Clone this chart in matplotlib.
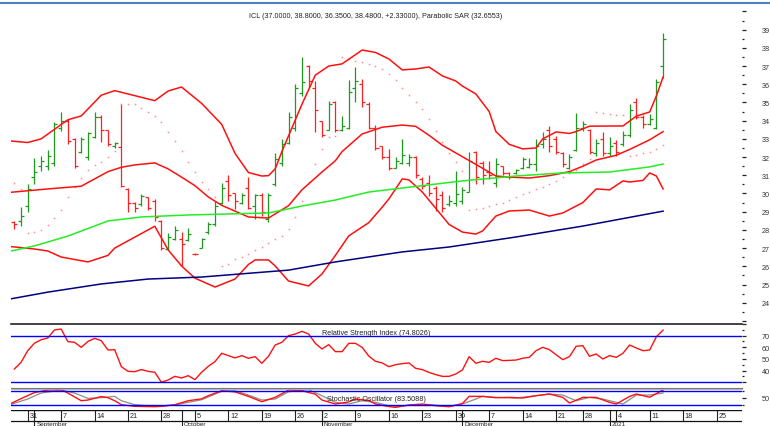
import numpy as np
import pandas as pd
import matplotlib
matplotlib.use("Agg")
import matplotlib.pyplot as plt
from matplotlib.lines import Line2D
from matplotlib.ticker import FixedLocator, FuncFormatter

plt.rcParams['font.family'] = ['Liberation Sans', 'DejaVu Sans']

# trading sessions on the chart, first bar 27 Aug 2020 (two sessions missing)
dates = pd.bdate_range('2020-08-27', '2021-02-05').drop(pd.to_datetime(['2020-10-28', '2020-12-25']))
day = np.arange(len(dates)) - 2   # 0 = 31 Aug

# OHLC, 27 Aug 2020 .. 13 Jan 2021
opens = [28.45, 28.5, 29.33, 30.9, 31.5, 31.5, 31.7, 33.6, 34.0, 33.0,
         32.3, 32.0, 33.1, 34.2, 33.5, 32.6, 32.55, 30.25, 29.5, 29.4,
         29.8, 29.6, 28.5, 26.95, 27.5, 27.5, 27.45, 26.7, 27.0, 27.9,
         28.3, 29.5, 30.7, 30.0, 29.5, 30.3, 29.3, 29.9, 28.6, 30.5,
         31.7, 32.8, 33.6, 35.5, 37.0, 35.8, 34.0, 33.5, 35.0, 33.5,
         33.6, 35.8, 36.0, 34.9, 33.6, 32.6, 32.0, 31.4, 31.7, 31.7,
         32.0, 30.8, 30.6, 30.3, 29.9, 29.4, 29.5, 29.6, 30.1, 32.3,
         31.7, 31.2, 30.6, 31.5, 31.1, 31.1, 31.4, 31.45, 31.6, 32.7,
         33.5, 33.0, 32.2, 31.4, 32.4, 33.6, 33.5, 32.2, 33.0, 32.2,
         32.8, 32.7, 33.2, 35.0, 34.2, 33.8, 33.6, 37.0]
highs = [28.51, 29.24, 30.52, 31.95, 32.08, 32.39, 33.91, 34.5, 34.09, 33.03,
         33.09, 33.4, 34.5, 34.3, 33.51, 32.81, 34.92, 30.28, 29.51, 29.97,
         29.82, 29.7, 28.54, 27.83, 28.23, 27.87, 28.1, 26.72, 27.54, 28.42,
         29.6, 30.56, 31.0, 30.0, 30.0, 30.89, 29.97, 30.0, 30.0, 32.23,
         33.0, 34.5, 36.0, 37.48, 37.06, 36.2, 34.0, 35.1, 35.1, 34.28,
         36.26, 36.93, 36.29, 35.05, 33.76, 32.63, 32.45, 31.99, 33.0, 32.17,
         32.04, 30.89, 31.02, 30.4, 30.16, 29.92, 31.25, 30.34, 32.26, 32.35,
         31.8, 31.8, 31.93, 31.53, 31.2, 31.35, 32.02, 31.93, 32.99, 33.4,
         33.73, 33.18, 32.26, 32.17, 34.4, 34.0, 33.54, 32.99, 33.4, 33.08,
         32.96, 33.45, 34.9, 35.23, 34.31, 34.37, 36.29, 38.8]
lows = [28.05, 28.23, 28.97, 30.53, 31.25, 31.31, 31.53, 33.45, 32.72, 31.38,
        32.21, 31.86, 33.03, 32.81, 32.63, 32.5, 30.34, 29.0, 29.0, 29.33,
        29.11, 28.5, 26.9, 26.9, 27.45, 26.04, 27.41, 26.6, 26.99, 27.78,
        28.2, 29.42, 29.6, 29.15, 29.4, 29.15, 28.6, 28.78, 28.45, 30.43,
        31.53, 32.72, 33.45, 35.38, 35.78, 33.4, 33.09, 33.5, 33.4, 33.45,
        33.54, 35.01, 34.73, 33.54, 32.41, 31.9, 31.31, 31.38, 31.62, 31.53,
        30.83, 30.25, 29.88, 29.06, 28.97, 29.33, 29.33, 29.42, 30.06, 30.52,
        30.52, 30.8, 30.34, 31.02, 30.8, 31.07, 31.35, 31.38, 31.25, 32.48,
        32.3, 32.17, 31.44, 31.35, 32.35, 33.45, 32.17, 32.08, 32.04, 32.08,
        32.08, 32.63, 33.09, 34.09, 33.58, 33.78, 33.54, 36.35]
closes = [28.3, 28.78, 30.25, 31.2, 31.8, 32.08, 33.8, 34.0, 32.9, 31.5,
          33.0, 33.3, 34.2, 33.5, 32.7, 32.8, 30.4, 29.5, 29.2, 29.85,
          29.2, 28.7, 27.0, 27.6, 28.0, 27.23, 27.8, 26.65, 27.5, 28.3,
          29.3, 30.3, 29.9, 29.6, 29.9, 29.2, 29.9, 29.0, 29.9, 31.9,
          32.7, 34.2, 35.8, 36.1, 36.2, 34.6, 33.2, 34.9, 33.5, 33.7,
          35.6, 36.2, 35.0, 33.6, 32.5, 32.0, 31.4, 31.8, 32.1, 32.0,
          31.0, 30.4, 30.0, 29.7, 29.2, 29.6, 29.97, 30.2, 31.8, 30.9,
          31.0, 31.0, 31.6, 31.1, 30.9, 31.3, 31.9, 31.6, 32.6, 33.0,
          32.6, 32.3, 31.6, 32.0, 33.6, 33.8, 32.3, 32.8, 32.2, 32.6,
          32.3, 33.2, 34.6, 34.2, 33.8, 34.1, 36.15, 38.48]

# Parabolic SAR, one dot per bar
sar = [30.56, 30.25, 27.84, 27.9, 28.0, 28.27, 28.64, 29.11, 29.79, 30.34,
       30.85, 31.29, 31.55, 31.75, 31.99, 32.35, 34.92, 34.92, 34.9, 34.68,
       34.46, 34.24, 33.91, 33.36, 32.87, 32.35, 31.71, 31.16, 30.65, 30.25,
       29.79, 26.02, 26.15, 26.38, 26.52, 26.7, 26.88, 27.06, 27.3, 27.48,
       27.66, 28.06, 28.7, 29.58, 30.62, 31.62, 32.45, 33.1, 33.15, 37.48,
       37.4, 37.3, 37.2, 37.1, 37.0, 36.84, 36.57, 36.25, 35.8, 35.4,
       35.0, 34.64, 34.07, 33.45, 32.85, 32.2, 31.71, 31.25, 29.1, 29.15,
       29.2, 29.3, 29.4, 29.5, 29.65, 29.8, 29.95, 30.1, 30.25, 30.35,
       30.5, 30.7, 30.9, 31.1, 31.3, 31.6, 31.9, 34.46, 34.42, 34.38,
       34.33, 34.3, 32.04, 32.12, 32.2, 32.3, 32.45, 32.66]

# RSI, one value per bar
rsi = [41.4, 47.1, 57.1, 63.5, 66.5, 68.0, 74.9, 75.7, 64.9, 64.3,
       60.0, 65.0, 67.7, 65.7, 57.7, 58.0, 43.4, 39.4, 39.1, 40.9,
       39.4, 38.6, 30.0, 32.0, 35.1, 33.7, 35.7, 32.3, 38.6, 43.7,
       47.7, 54.9, 52.9, 50.9, 52.9, 50.6, 52.0, 46.3, 52.3, 62.0,
       64.3, 70.0, 71.4, 73.7, 71.4, 63.4, 58.6, 62.3, 56.3, 56.3,
       63.4, 63.4, 60.0, 52.5, 48.0, 46.6, 43.4, 45.1, 46.0, 46.6,
       42.0, 40.9, 38.5, 36.6, 35.1, 35.1, 37.1, 40.6, 52.0, 46.3,
       48.0, 47.1, 50.6, 48.6, 48.8, 49.1, 50.6, 51.4, 57.1, 60.0,
       58.0, 53.7, 49.4, 52.0, 60.9, 61.4, 52.3, 54.3, 50.0, 52.9,
       51.4, 54.9, 62.0, 59.4, 57.1, 57.7, 69.1, 74.8]

# Bollinger bands, read at trading-day offsets (0 = 31 Aug)
upper_days = [-3, 0, 2, 6, 8, 11, 13, 19, 21, 23, 26, 29, 31, 33, 35, 36, 37, 38, 41, 43,
              45, 47, 50, 52, 54, 56, 58, 60, 62, 64, 65, 67, 69, 70, 72, 74, 76, 77, 79, 81,
              82, 84, 89, 91, 93, 94, 95]
upper_vals = [32.9, 32.8, 33.0, 34.05, 34.26, 35.4, 35.65, 35.1, 35.63, 35.85, 34.95, 33.8, 32.2,
              31.15, 30.96, 30.98, 31.35, 32.3, 34.9, 36.5, 37.0, 37.12, 37.88, 37.75, 37.39,
              36.79, 36.84, 36.95, 36.46, 36.18, 35.9, 35.47, 34.5, 33.4, 32.7, 32.45, 32.5,
              33.0, 33.38, 33.3, 33.4, 33.7, 33.71, 34.25, 34.48, 35.36, 36.4]
mid_days = [-3, 3, 8, 12, 14, 16, 19, 21, 23, 25, 27, 29, 33, 36, 39, 41, 44, 46, 47, 50,
            53, 56, 58, 60, 62, 67, 70, 72, 75, 78, 81, 83, 85, 88, 90, 93, 95]
mid_vals = [30.05, 30.25, 30.4, 31.2, 31.44, 31.57, 31.68, 31.35, 30.9, 30.43, 29.81, 29.35,
            28.71, 28.65, 29.33, 30.2, 31.18, 31.8, 32.3, 33.27, 33.64, 33.76, 33.69, 33.2,
            32.65, 31.6, 30.96, 30.9, 30.85, 30.98, 31.2, 31.5, 31.84, 32.1, 32.42, 32.95, 33.4]
lower_days = [-3, 1, 3, 5, 9, 12, 13, 17, 19, 21, 23, 25, 28, 31, 33, 34, 36, 37, 39, 42,
              44, 46, 48, 51, 53, 54, 56, 57, 59, 63, 65, 67, 68, 70, 72, 75, 78, 80, 83, 85,
              87, 89, 90, 92, 93, 94, 95]
lower_vals = [27.1, 26.95, 26.84, 26.51, 26.24, 26.6, 27.0, 27.8, 28.2, 26.9, 26.02, 25.35,
              24.86, 25.3, 26.1, 26.35, 26.35, 26.02, 25.19, 24.92, 25.58, 26.6, 27.67, 28.4,
              29.25, 29.7, 30.8, 30.75, 30.08, 28.3, 27.88, 27.77, 27.94, 28.76, 29.04, 29.09,
              28.76, 28.93, 29.5, 30.25, 30.2, 30.69, 30.63, 30.72, 31.13, 30.96, 30.25]

# moving averages
ma_g_days = [-3, 1, 6, 12, 17, 24, 36, 41, 46, 51, 56, 65, 73, 80, 87, 93, 95]
ma_g_vals = [26.8, 27.12, 27.66, 28.49, 28.71, 28.82, 28.93, 29.31, 29.64, 30.08, 30.3,
             30.69, 30.96, 31.13, 31.18, 31.46, 31.62]
ma_b_days = [-3, 3, 11, 18, 26, 39, 46, 56, 63, 73, 83, 95]
ma_b_vals = [24.18, 24.58, 25.03, 25.3, 25.41, 25.79, 26.24, 26.79, 27.06, 27.61, 28.21, 29.03]

# stochastic %K / %D
stk_days = [-3, -1, 1, 3, 5, 6, 8, 9, 11, 12, 13, 14, 16, 19, 20, 22, 24, 26, 27, 29,
            31, 33, 35, 37, 39, 41, 43, 44, 46, 48, 49, 51, 52, 54, 55, 57, 59, 61, 63, 65,
            66, 68, 70, 72, 74, 76, 78, 80, 81, 83, 85, 87, 88, 90, 91, 93, 95]
stk_vals = [18, 46, 72, 82.9, 84.3, 70, 37.1, 40, 55, 50, 37.1, 20, 12.9, 11.4, 12.9, 20,
            37.1, 45, 58.6, 80, 75, 55.7, 32.9, 51.4, 82.9, 80, 65, 40, 22.9, 32, 44.3, 38,
            22.9, 12, 8.6, 18.6, 22.9, 15.7, 11.4, 25, 55.7, 55.7, 50, 51.4, 48.6, 58.6, 65.7,
            51.4, 27.1, 51.4, 51.4, 30, 22.9, 55.7, 65.7, 52, 83.5]
std_days = [-3, 0, 2, 5, 7, 9, 11, 13, 14, 16, 19, 22, 24, 26, 29, 31, 33, 35, 37, 39,
            42, 44, 46, 48, 50, 52, 54, 55, 58, 60, 63, 65, 67, 68, 70, 73, 76, 78, 80, 82,
            84, 86, 89, 91, 93, 95]
std_vals = [17, 44.3, 70, 82.9, 70, 47.1, 50, 55.7, 37.1, 20, 12.9, 18.6, 30, 41.4, 77.1, 80,
            61.4, 40, 44.3, 75.7, 84.3, 58.6, 30, 22.9, 37.1, 30, 15.7, 12.9, 20, 20, 12.9,
            22.9, 44.3, 55.7, 51.4, 48.6, 58.6, 65.7, 61.4, 37.1, 51.4, 44.3, 22.9, 61.4,
            61.4, 70]

W, H = 770, 427
fig = plt.figure(figsize=(W / 100, H / 100), dpi=100)

def box(top, bottom):
    return [11 / W, 1 - bottom / H, 731 / W, (bottom - top) / H]

ax = fig.add_axes(box(5, 325))
ax_rsi = fig.add_axes(box(325, 388), sharex=ax)
ax_sto = fig.add_axes(box(389, 410.5), sharex=ax)
ax_dt = fig.add_axes(box(410.5, 427), sharex=ax)

for a in (ax, ax_rsi, ax_sto, ax_dt):
    for s in a.spines.values():
        s.set_visible(False)
    a.tick_params(axis='x', which='both', bottom=False, labelbottom=False)
    a.yaxis.tick_right()
    a.tick_params(axis='y', which='major', length=3, width=0.9, color='#222222',
                  labelsize=5.2, labelcolor='#333333', pad=11)
    a.tick_params(axis='y', which='minor', length=1.2, width=0.9, color='#222222')

ax.set_xlim(-2.5, 106.8)
ax.set_ylim(22.83, 40.41)

# main panel
n = len(closes)
x = day[:n]
o, h, l, c = map(np.array, (opens, highs, lows, closes))
col = np.where(c >= o, '#1e9b1e', '#ff2020')
ax.vlines(x, l, h, colors=col, lw=0.9)
ax.hlines(o, x - 0.45, x, colors=col, lw=0.9)
ax.hlines(c, x, x + 0.45, colors=col, lw=0.9)
ax.plot(x, sar, ls='none', marker='s', ms=1.1, mew=0, color='#ff8a8a')

for d, v in ((upper_days, upper_vals), (mid_days, mid_vals), (lower_days, lower_vals)):
    ax.plot(d, v, color='#ff1010', lw=1.1)
ax.plot(ma_g_days, ma_g_vals, color='#22ee22', lw=1.1)
ax.plot(ma_b_days, ma_b_vals, color='#000080', lw=1.1)

ax.yaxis.set_major_locator(FixedLocator(range(23, 41)))
ax.yaxis.set_minor_locator(FixedLocator(np.arange(23.5, 40.5, 1)))
ax.yaxis.set_major_formatter(FuncFormatter(lambda v, p: '%d' % v if 24 <= v <= 39 else ''))

# RSI
ax_rsi.set_ylim(25.97, 80)
ax_rsi.plot(x, rsi, color='#ff1010', lw=1.0)
ax_rsi.axhline(70, color='#0000ff', lw=1.0)
ax_rsi.axhline(30, color='#0000ff', lw=1.0)
ax_rsi.yaxis.set_major_locator(FixedLocator([30, 40, 50, 60, 70, 80]))
ax_rsi.yaxis.set_minor_locator(FixedLocator([35, 45, 55, 65, 75]))
ax_rsi.yaxis.set_major_formatter(FuncFormatter(lambda v, p: '%d' % v if 40 <= v <= 70 else ''))

# stochastic
ax_sto.set_ylim(-0.6, 91.6)
ax_sto.plot(std_days, std_vals, color='#8c8c8c', lw=0.9)
ax_sto.plot(stk_days, stk_vals, color='#ff1010', lw=1.0)
ax_sto.axhline(80, color='#0000ff', lw=1.0)
ax_sto.axhline(20, color='#0000ff', lw=1.0)
ax_sto.yaxis.set_major_locator(FixedLocator([50]))
ax_sto.yaxis.set_minor_locator(FixedLocator([20, 80]))

# date row
ax_dt.set_ylim(0, 1)
ax_dt.set_yticks([])
shown = day <= 106
for d, t in zip(day[shown], dates[shown]):
    if t.weekday() == 0:
        ax_dt.plot([d, d], [0.32, 1], color='#222222', lw=0.8)
        ax_dt.text(d + 0.25, 0.64, str(t.day), fontsize=5.2, color='#222222',
                   ha='left', va='center')
for i in range(1, len(dates)):
    t = dates[i]
    if t.month != dates[i - 1].month and day[i] <= 106:
        ax_dt.plot([day[i], day[i]], [0, 1], color='#222222', lw=0.8)
        name = str(t.year) if t.month == 1 else t.strftime('%B')
        ax_dt.text(day[i] + 0.3, 0.30, name, fontsize=4.6, color='#222222',
                   ha='left', va='top')
ax_dt.axhline(1, color='#111111', lw=1.0)
ax_dt.axhline(0.32, color='#111111', lw=0.9)

# frame lines
def hline(y, x0, x1, color, lw):
    fig.add_artist(Line2D([x0 / W, x1 / W], [1 - y / H, 1 - y / H], color=color, lw=lw,
                          transform=fig.transFigure))

hline(3.5, 0, W, '#4f81bd', 1.5)
hline(325, 11, 742, '#111111', 1.1)
hline(388.6, 11, 742, '#777777', 0.8)
hline(390.2, 11, 742, '#aaaaaa', 0.6)

fig.text(376 / W, 1 - 17 / H,
         'ICL (37.0000, 38.8000, 36.3500, 38.4800, +2.33000), Parabolic SAR (32.6553)',
         fontsize=5.2, color='#222222', ha='center', va='center')
fig.text(376 / W, 1 - 334 / H, 'Relative Strength Index (74.8026)',
         fontsize=5.2, color='#222222', ha='center', va='center')
fig.text(376 / W, 1 - 400 / H, 'Stochastic Oscillator (83.5088)',
         fontsize=5.2, color='#222222', ha='center', va='center')

fig.savefig('out.png', dpi=100)
